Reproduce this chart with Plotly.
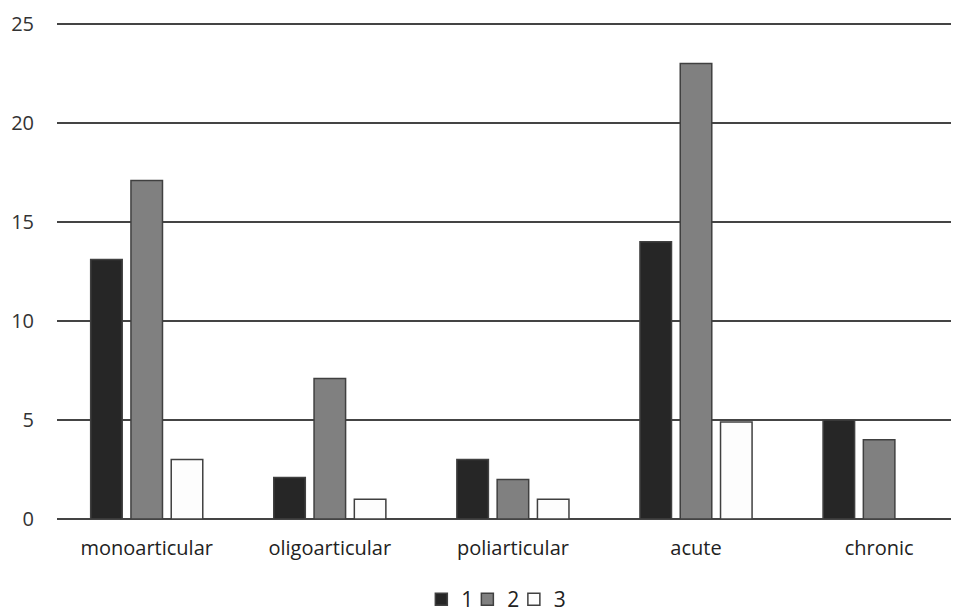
import plotly.graph_objects as go

categories = ["monoarticular", "oligoarticular", "poliarticular", "acute", "chronic"]
series_names = ["1", "2", "3"]
s1 = [13.1, 2.1, 3, 14, 5]
s2 = [17.1, 7.1, 2, 23, 4]
s3 = [3, 1, 1, 4.9, 0]
colors = ["#262626", "#808080", "#fdfdfd"]
legend_ids = ["legend", "legend2", "legend3"]
legend_x = [0.4310, 0.4790, 0.5275]

fig = go.Figure()
for name, vals, c, lg in zip(series_names, [s1, s2, s3], colors, legend_ids):
    fig.add_trace(go.Bar(
        x=categories, y=vals, name=name, legend=lg,
        marker=dict(color=c, line=dict(color="#404040", width=1.5)),
    ))

legend_style = dict(orientation="h", xanchor="left", xref="container",
                    y=-0.035, yanchor="bottom", yref="container",
                    font=dict(size=21, color="#222222"), itemwidth=30,
                    bgcolor="rgba(0,0,0,0)")

fig.update_layout(
    width=959, height=612,
    paper_bgcolor="white", plot_bgcolor="white",
    margin=dict(l=49, r=0, t=10, b=101, autoexpand=False),
    barmode="group", bargap=0.34, bargroupgap=0.217,
    font=dict(family="Open Sans", size=20, color="#333333"),
    showlegend=True,
    legend=dict(x=legend_x[0], **legend_style),
    legend2=dict(x=legend_x[1], **legend_style),
    legend3=dict(x=legend_x[2], **legend_style),
    xaxis=dict(range=[-0.49, 4.48], showgrid=False, showline=False, ticks="",
               automargin=False, ticklabelstandoff=15,
               tickfont=dict(size=20, color="#222222")),
    yaxis=dict(range=[0, 25.3], tickvals=[0, 5, 10, 15, 20, 25], showgrid=True,
               gridcolor="#444444", gridwidth=1.5,
               zeroline=True, zerolinecolor="#444444", zerolinewidth=1.5,
               showline=False, ticklabelstandoff=22, automargin=False,
               tickfont=dict(size=20, color="#333333")),
)

fig.write_html("out.html")
